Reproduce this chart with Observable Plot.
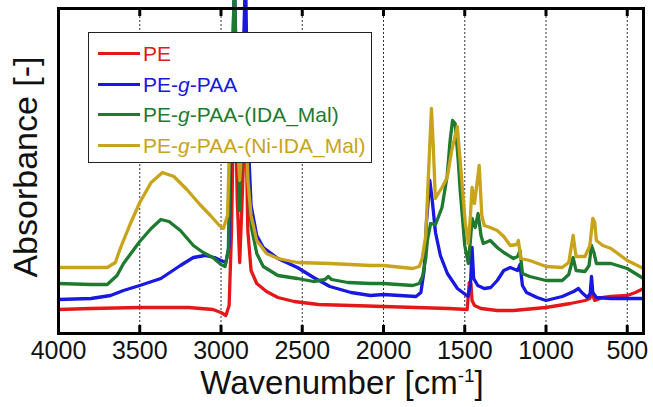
<!DOCTYPE html>
<html>
<head>
<meta charset="utf-8">
<script src="https://cdn.jsdelivr.net/npm/d3@7"></script>
<script src="https://cdn.jsdelivr.net/npm/@observablehq/plot@0.6"></script>
<style>
  html, body { margin: 0; padding: 0; background: #fff; }
  #wrap { position: relative; width: 653px; height: 407px; font-family: "Liberation Sans", Arial, sans-serif; }
  #legend { position: absolute; left: 88px; top: 32px; width: 282px; height: 124px; border: 1.5px solid #222; background: #fff; padding-top: 5px; box-sizing: content-box; }
  .row { display: flex; align-items: center; height: 30.7px; white-space: nowrap; }
  .swatch { width: 42px; height: 3px; margin-left: 9px; margin-right: 3px; }
  .lab { font-size: 21px; line-height: 1; }
  #xtitle { position: absolute; left: 342px; top: 371px; transform: translateX(-50%); font-size: 33px; line-height: 0.7; white-space: nowrap; color: #111; }
  #xtitle sup { font-size: 19px; line-height: 0; vertical-align: 12px; }
</style>
</head>
<body>
<div id="wrap">
  <div id="chart"></div>
  <div id="legend"></div>
  <div id="xtitle">Wavenumber [cm<sup>-1</sup>]</div>
</div>
<script>
// Series: [wavenumber (cm^-1), absorbance (a.u.)]
const PE = [[4000,.24],[3800,.25],[3500,.26],[3200,.26],[3050,.24],[3000,.21],[2970,.18],[2950,.28],[2935,1.03],[2917,2.83],[2900,1.33],[2885,.71],[2870,1.33],[2849,2.33],[2835,1.03],[2815,.63],[2780,.50],[2720,.42],[2650,.36],[2550,.32],[2400,.29],[2200,.28],[2000,.27],[1800,.26],[1600,.25],[1485,.24],[1472,.51],[1466,.43],[1462,.50],[1455,.33],[1440,.28],[1400,.25],[1300,.23],[1200,.23],[1000,.26],[850,.30],[760,.33],[730,.35],[720,.43],[710,.37],[700,.33],[650,.36],[600,.37],[500,.38],[450,.41],[400,.45]];

const PE_g_PAA = [[4000,.34],[3800,.35],[3680,.38],[3600,.43],[3500,.48],[3370,.55],[3250,.68],[3170,.76],[3100,.78],[3040,.76],[3000,.73],[2970,.71],[2950,.88],[2935,2.33],[2917,3.53],[2900,2.13],[2885,1.33],[2870,2.33],[2849,3.63],[2835,2.03],[2815,1.28],[2780,.98],[2740,.86],[2650,.75],[2530,.66],[2430,.56],[2330,.47],[2200,.41],[2080,.38],[2000,.39],[1900,.38],[1800,.37],[1770,.41],[1750,.63],[1735,1.13],[1715,1.53],[1700,1.33],[1680,1.01],[1650,.78],[1607,.60],[1545,.45],[1480,.37],[1465,.48],[1455,.86],[1445,.55],[1420,.48],[1380,.45],[1340,.46],[1300,.53],[1260,.63],[1220,.66],[1175,.63],[1160,.69],[1145,.48],[1120,.41],[1055,.36],[1000,.33],[900,.37],[830,.42],[800,.45],[780,.41],[745,.36],[728,.40],[720,.57],[712,.41],[690,.36],[600,.35],[500,.35],[400,.35]];

const PE_g_PAA_IDA = [[4000,.50],[3800,.49],[3700,.49],[3640,.58],[3600,.70],[3500,.92],[3430,1.05],[3370,1.14],[3320,1.12],[3250,1.03],[3170,.88],[3110,.81],[3050,.76],[3000,.69],[2975,.67],[2955,.83],[2940,2.13],[2917,3.53],[2900,2.13],[2885,1.23],[2870,2.13],[2849,2.83],[2835,1.63],[2815,1.08],[2780,.80],[2740,.67],[2650,.58],[2530,.55],[2430,.52],[2360,.54],[2340,.57],[2320,.54],[2220,.51],[2080,.50],[2000,.50],[1820,.48],[1780,.50],[1760,.57],[1740,.75],[1730,.93],[1710,1.10],[1680,1.09],[1640,1.26],[1608,1.58],[1590,1.93],[1575,2.13],[1559,2.10],[1540,1.73],[1528,1.43],[1500,.88],[1478,.70],[1465,.93],[1455,1.15],[1436,1.06],[1418,1.20],[1400,.98],[1386,.90],[1343,.93],[1300,.86],[1260,.81],[1200,.75],[1175,.77],[1160,.83],[1145,.60],[1100,.57],[1000,.53],[900,.53],[860,.59],[833,.76],[815,.63],[760,.62],[735,.68],[720,.88],[705,.81],[690,.70],[600,.70],[500,.65],[450,.60],[400,.55]];

const PE_g_PAA_NiIDA = [[4000,.66],[3800,.66],[3700,.66],[3650,.71],[3620,.85],[3560,1.09],[3500,1.31],[3430,1.51],[3360,1.61],[3290,1.57],[3210,1.44],[3130,1.29],[3065,1.18],[3010,1.08],[2985,1.05],[2960,1.18],[2945,2.03],[2917,2.33],[2900,1.93],[2885,1.53],[2870,1.93],[2849,2.23],[2835,1.53],[2815,1.18],[2780,.93],[2720,.80],[2650,.75],[2530,.71],[2330,.70],[2080,.68],[2000,.68],[1820,.65],[1780,.67],[1762,.75],[1740,.98],[1725,1.53],[1705,2.25],[1695,1.93],[1681,1.35],[1663,1.40],[1640,1.46],[1608,1.56],[1580,1.83],[1546,2.07],[1530,1.76],[1497,1.11],[1478,.90],[1465,1.18],[1455,1.46],[1440,1.30],[1411,1.68],[1395,1.18],[1380,1.08],[1343,1.06],[1300,1.03],[1260,.97],[1220,.88],[1180,.89],[1170,.93],[1155,.75],[1100,.73],[1000,.67],[900,.66],[860,.71],[833,.98],[815,.77],[760,.77],[730,.88],[712,1.15],[700,1.11],[690,.93],[650,.88],[600,.85],[500,.73],[450,.69],[400,.65]];

const seriesNames = ["PE", "PE-g-PAA", "PE-g-PAA-(IDA_Mal)", "PE-g-PAA-(Ni-IDA_Mal)"];
const seriesColors = ["#e41818", "#1818e0", "#1e7a2e", "#c9a31a"];
const seriesData = [PE, PE_g_PAA, PE_g_PAA_IDA, PE_g_PAA_NiIDA];

const xTicks = [4000, 3500, 3000, 2500, 2000, 1500, 1000, 500];
const gridTicks = [3500, 3000, 2500, 2000, 1500, 1000, 500];
const yLabel = "Absorbance [-]";

const marks = [
  Plot.ruleX(gridTicks, {x: d => d, stroke: "#333", strokeWidth: 1, strokeDasharray: "2,2"})
];
seriesData.forEach((s, i) => {
  marks.push(Plot.line(s, {x: d => d[0], y: d => d[1], stroke: seriesColors[i], strokeWidth: 3.3, strokeLinejoin: "round"}));
});
marks.push(
  Plot.tickX(gridTicks, {x: d => d, stroke: "#000", strokeWidth: 3, insetBottom: 317}),
  Plot.tickX(gridTicks, {x: d => d, stroke: "#000", strokeWidth: 3, insetTop: 317}),
  Plot.frame({stroke: "#000", strokeWidth: 3}),
  Plot.axisX({ticks: xTicks, tickSize: 0, tickPadding: 8, fontSize: 25, tickFormat: d => String(d), label: null, fill: "#111"}),
  Plot.text([yLabel], {text: d => d, frameAnchor: "left", textAnchor: "middle", rotate: -90, dx: -32, dy: -4, fontSize: 34, fill: "#111"})
);

const chart = Plot.plot({
  width: 653,
  height: 407,
  marginLeft: 58,
  marginRight: 10,
  marginTop: 8,
  marginBottom: 74,
  x: {domain: [4000, 400]},
  y: {domain: [0, 3.25], axis: null},
  style: {fontFamily: "'Liberation Sans', Arial, sans-serif", background: "#fff"},
  marks
});
document.getElementById("chart").appendChild(chart);

const legend = document.getElementById("legend");
seriesNames.forEach((name, i) => {
  const row = document.createElement("div");
  row.className = "row";
  const sw = document.createElement("div");
  sw.className = "swatch";
  sw.style.background = seriesColors[i];
  const lab = document.createElement("div");
  lab.className = "lab";
  lab.style.color = seriesColors[i];
  lab.innerHTML = name.replace("-g-", "-<i>g</i>-");
  row.appendChild(sw);
  row.appendChild(lab);
  legend.appendChild(row);
});
</script>
</body>
</html>
